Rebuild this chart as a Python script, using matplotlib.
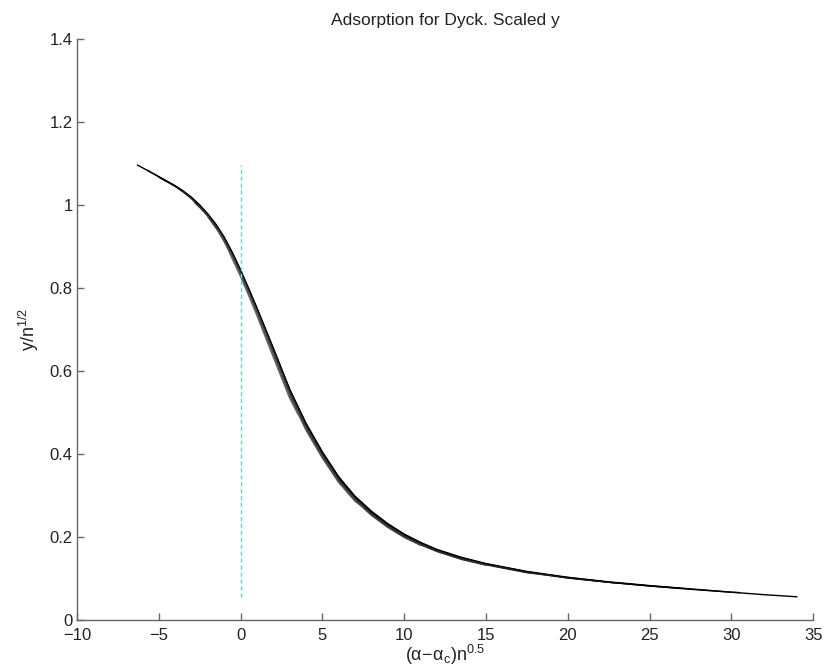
import matplotlib
matplotlib.use("Agg")
import matplotlib.pyplot as plt

plt.rcParams['font.family'] = ['Liberation Sans', 'DejaVu Sans']
plt.rcParams['mathtext.fontset'] = 'custom'
plt.rcParams['mathtext.rm'] = 'Liberation Sans'
plt.rcParams['mathtext.it'] = 'Liberation Sans'
plt.rcParams['mathtext.bf'] = 'Liberation Sans:bold'

title = "Adsorption for Dyck. Scaled y"
xlabel = r"$(\mathrm{\alpha}\!-\!\mathrm{\alpha}_c)\mathrm{n}^{0.5}$"
ylabel = r"$\mathrm{y/n}^{1/2}$"

x1 = [-6.3, -5.5, -5, -4.5, -4, -3.5, -3, -2.5, -2, -1.5, -1, -0.5, 0, 0.5, 1, 2, 3, 4, 5, 6, 7, 8, 9, 10, 11, 12, 13.5, 15, 17.5, 20, 22.5, 25, 27.5, 30, 32, 34]
y1 = [1.096, 1.079, 1.068, 1.057, 1.046, 1.033, 1.018, 1.000, 0.978, 0.953, 0.922, 0.885, 0.843, 0.798, 0.752, 0.655, 0.556, 0.474, 0.405, 0.345, 0.298, 0.262, 0.232, 0.207, 0.187, 0.170, 0.151, 0.136, 0.117, 0.103, 0.092, 0.083, 0.075, 0.067, 0.061, 0.056]

x2 = [-5.65, -5.5, -5, -4.5, -4, -3.5, -3, -2.5, -2, -1.5, -1, -0.5, 0, 0.5, 1, 2, 3, 4, 5, 6, 7, 8, 9, 10, 11, 12, 13.5, 15, 17.5, 20, 22.5, 25, 27.5, 30, 30.5]
y2 = [1.083, 1.079, 1.068, 1.057, 1.046, 1.033, 1.018, 0.999, 0.977, 0.952, 0.921, 0.884, 0.842, 0.797, 0.750, 0.654, 0.555, 0.472, 0.403, 0.343, 0.297, 0.261, 0.231, 0.206, 0.186, 0.169, 0.150, 0.135, 0.116, 0.102, 0.091, 0.082, 0.074, 0.067, 0.066]

x3 = [-5, -4.5, -4, -3.5, -3, -2.5, -2, -1.5, -1, -0.5, 0, 0.5, 1, 2, 3, 4, 5, 6, 7, 8, 9, 10, 11, 12, 13.5, 15, 17.5, 20, 22.5, 25, 27]
y3 = [1.067, 1.056, 1.045, 1.032, 1.017, 0.998, 0.976, 0.951, 0.920, 0.882, 0.840, 0.795, 0.749, 0.652, 0.553, 0.471, 0.402, 0.342, 0.295, 0.259, 0.230, 0.205, 0.185, 0.168, 0.149, 0.135, 0.116, 0.102, 0.091, 0.082, 0.076]

x4 = [-4.25, -4, -3.5, -3, -2.5, -2, -1.5, -1, -0.5, 0, 0.5, 1, 2, 3, 4, 5, 6, 7, 8, 9, 10, 11, 12, 13.5, 15, 17.5, 20, 23]
y4 = [1.051, 1.045, 1.031, 1.016, 0.997, 0.975, 0.949, 0.918, 0.880, 0.839, 0.794, 0.747, 0.650, 0.551, 0.469, 0.400, 0.340, 0.294, 0.258, 0.228, 0.204, 0.184, 0.167, 0.148, 0.134, 0.115, 0.101, 0.089]

x5 = [-3.5, -3, -2.5, -2, -1.5, -1, -0.5, 0, 0.5, 1, 2, 3, 4, 5, 6, 7, 8, 9, 10, 11, 12, 13.5, 15, 17.5, 19]
y5 = [1.032, 1.015, 0.996, 0.974, 0.948, 0.917, 0.879, 0.837, 0.792, 0.745, 0.648, 0.549, 0.467, 0.398, 0.338, 0.292, 0.256, 0.227, 0.202, 0.183, 0.166, 0.147, 0.133, 0.114, 0.107]

x6 = [-2.8, -2.5, -2, -1.5, -1, -0.5, 0, 0.5, 1, 2, 3, 4, 5, 6, 7, 8, 9, 10, 11, 12, 13.5, 15]
y6 = [1.005, 0.994, 0.973, 0.946, 0.915, 0.877, 0.835, 0.790, 0.743, 0.645, 0.546, 0.464, 0.396, 0.336, 0.290, 0.254, 0.225, 0.201, 0.181, 0.165, 0.146, 0.132]

x7 = [-2, -1.5, -1, -0.5, 0, 0.5, 1, 2, 3, 4, 5, 6, 7, 8, 9, 10, 11]
y7 = [0.971, 0.944, 0.913, 0.875, 0.833, 0.787, 0.740, 0.642, 0.543, 0.461, 0.393, 0.333, 0.288, 0.252, 0.223, 0.199, 0.180]

x8 = [-1.4, -1, -0.5, 0, 0.5, 1, 2, 3, 4, 5, 6, 7, 7.5]
y8 = [0.940, 0.911, 0.872, 0.830, 0.784, 0.737, 0.638, 0.539, 0.457, 0.390, 0.331, 0.286, 0.271]

x9 = [-0.65, 0, 0.5, 1, 2, 3, 3.5]
y9 = [0.882, 0.827, 0.781, 0.733, 0.633, 0.534, 0.496]

curves = [(x1, y1), (x2, y2), (x3, y3), (x4, y4), (x5, y5), (x6, y6), (x7, y7), (x8, y8), (x9, y9)]
curve_colors = ['black', 'black', 'black', '#111111', '#222222', '#333333', '#444444', '#555555', '#666666']

xticks = [-10, -5, 0, 5, 10, 15, 20, 25, 30, 35]
yticks = [0, 0.2, 0.4, 0.6, 0.8, 1, 1.2, 1.4]
yticklabels = ["0", "0.2", "0.4", "0.6", "0.8", "1", "1.2", "1.4"]
xticklabels = ["\u221210", "\u22125", "0", "5", "10", "15", "20", "25", "30", "35"]

fig = plt.figure(figsize=(8.4, 6.71), dpi=100)
ax = fig.add_axes([0.0917, 0.076, 0.8763, 0.866])

for (xs, ys), c in zip(curves, curve_colors):
    ax.plot(xs, ys, color=c, linewidth=1.0)

ymin = min(min(ys) for _, ys in curves)
ymax = max(max(ys) for _, ys in curves)
ax.plot([0, 0], [ymin, ymax], color='cyan', linestyle='--', linewidth=1.0, dashes=(3, 2))

ax.set_xlim(-10, 35)
ax.set_ylim(0, 1.4)
ax.set_xticks(xticks)
ax.set_xticklabels(xticklabels)
ax.set_yticks(yticks)
ax.set_yticklabels(yticklabels)

for side in ['top', 'right']:
    ax.spines[side].set_visible(False)
for side in ['left', 'bottom']:
    ax.spines[side].set_color('#666666')
    ax.spines[side].set_linewidth(1.0)

ax.tick_params(direction='in', length=5, width=1.0, color='#666666',
               labelsize=12, labelcolor='#222222')
ax.tick_params(axis='x', pad=6)
ax.tick_params(axis='y', pad=3)

ax.set_title(title, fontsize=12.5, color='#222222', pad=10)
ax.set_xlabel(xlabel, fontsize=13, color='#222222', labelpad=0)
ax.set_ylabel(ylabel, fontsize=13, color='#222222', labelpad=6)

fig.savefig("out.png", dpi=100)
